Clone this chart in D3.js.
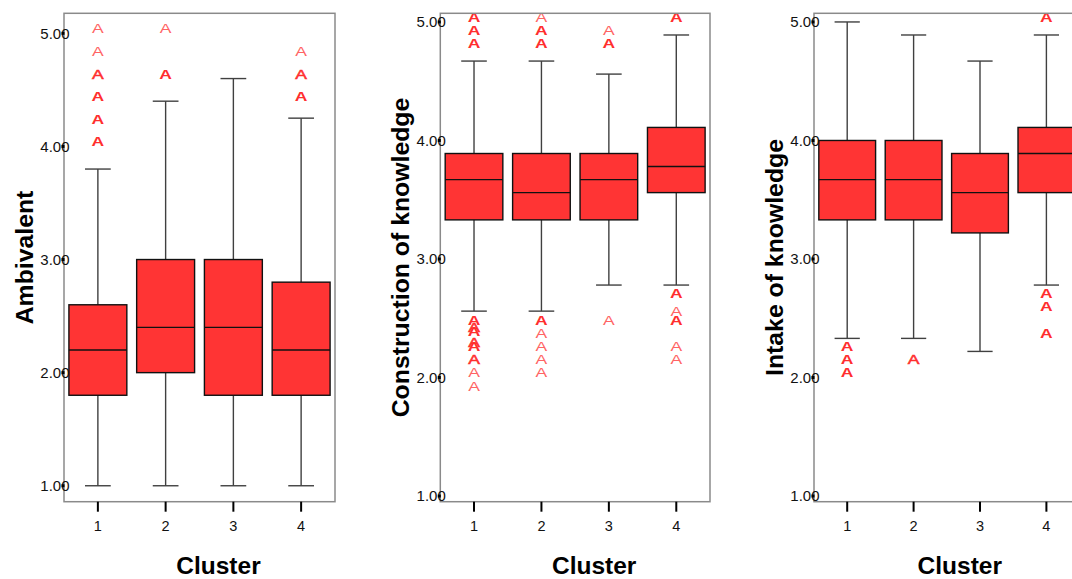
<!DOCTYPE html>
<html>
<head>
<meta charset="utf-8">
<script src="https://cdn.jsdelivr.net/npm/d3@7"></script>
<style>
  html, body { margin: 0; padding: 0; background: #ffffff; }
  svg { display: block; }
  text { font-family: "Liberation Sans", Arial, sans-serif; }
</style>
</head>
<body>
<svg id="chart" width="1072" height="579"></svg>
<script>
// ---------- data ----------
const clusters = ["1", "2", "3", "4"];
const yTickValues = [1, 2, 3, 4, 5];
const xTitle = "Cluster";
const panelTitles = ["Ambivalent", "Construction of knowledge", "Intake of knowledge"];

// [lower whisker, Q1, median, Q3, upper whisker] per cluster
const ambivalentStats = [
  [1.00, 1.80, 2.20, 2.60, 3.80],
  [1.00, 2.00, 2.40, 3.00, 4.40],
  [1.00, 1.80, 2.40, 3.00, 4.60],
  [1.00, 1.80, 2.20, 2.80, 4.25]
];
const constructionStats = [
  [2.56, 3.33, 3.67, 3.89, 4.67],
  [2.56, 3.33, 3.56, 3.89, 4.67],
  [2.78, 3.33, 3.67, 3.89, 4.56],
  [2.78, 3.56, 3.78, 4.11, 4.89]
];
const intakeStats = [
  [2.33, 3.33, 3.67, 4.00, 5.00],
  [2.33, 3.33, 3.67, 4.00, 4.89],
  [2.22, 3.22, 3.56, 3.89, 4.67],
  [2.78, 3.56, 3.89, 4.11, 4.89]
];

// outliers: [cluster, value, number of overlapping cases]
const ambivalentOutliers = [
  ["1", 5.00, 1], ["1", 4.80, 1], ["1", 4.60, 2], ["1", 4.40, 3], ["1", 4.20, 3], ["1", 4.00, 3],
  ["2", 5.00, 1], ["2", 4.60, 3],
  ["4", 4.80, 1], ["4", 4.60, 2], ["4", 4.40, 3]
];
const constructionOutliers = [
  ["1", 5.00, 3], ["1", 4.89, 3], ["1", 4.78, 3],
  ["2", 5.00, 1], ["2", 4.89, 3], ["2", 4.78, 3],
  ["3", 4.89, 1], ["3", 4.78, 3],
  ["4", 5.00, 3],
  ["1", 2.44, 3], ["1", 2.38, 2], ["1", 2.35, 3], ["1", 2.26, 2], ["1", 2.22, 3], ["1", 2.11, 2], ["1", 2.00, 1], ["1", 1.89, 1],
  ["2", 2.44, 3], ["2", 2.33, 1], ["2", 2.22, 1], ["2", 2.11, 1], ["2", 2.00, 1],
  ["3", 2.44, 1],
  ["4", 2.67, 3], ["4", 2.52, 1], ["4", 2.44, 3], ["4", 2.22, 1], ["4", 2.11, 1]
];
const intakeOutliers = [
  ["4", 5.00, 3],
  ["1", 2.22, 3], ["1", 2.11, 3], ["1", 2.00, 3],
  ["2", 2.11, 2],
  ["4", 2.67, 3], ["4", 2.56, 3], ["4", 2.33, 3]
];

// ---------- layout ----------
const frameTop = 13.3, frameBottom = 501.7;
const panels = [
  { title: panelTitles[0], stats: ambivalentStats, outliers: ambivalentOutliers,
    x0: 64, x1: 335, domain: [0.859, 5.177], xTitleShift: 19 },
  { title: panelTitles[1], stats: constructionStats, outliers: constructionOutliers,
    x0: 440.3, x1: 710, domain: [0.952, 5.073], xTitleShift: 19 },
  { title: panelTitles[2], stats: intakeStats, outliers: intakeOutliers,
    x0: 814, x1: 1079.6, domain: [0.952, 5.073], xTitleShift: 13 }
];

const boxColor = "#ff3434";
const svg = d3.select("#chart");

panels.forEach(p => {
  const g = svg.append("g");
  const x = d3.scaleBand().domain(clusters).range([p.x0, p.x1]).padding(0);
  const y = d3.scaleLinear().domain(p.domain).range([frameBottom, frameTop]);
  const bw = x.bandwidth();
  const boxW = bw * 0.855;
  const capW = bw * 0.38;

  // whiskers
  p.stats.forEach((s, i) => {
    const cx = x(clusters[i]) + bw / 2;
    const wg = g.append("g").attr("stroke", "#404040").attr("stroke-width", 1.4);
    wg.append("line").attr("x1", cx).attr("x2", cx).attr("y1", y(s[0])).attr("y2", y(s[1]));
    wg.append("line").attr("x1", cx).attr("x2", cx).attr("y1", y(s[3])).attr("y2", y(s[4]));
    wg.append("line").attr("x1", cx - capW / 2).attr("x2", cx + capW / 2).attr("y1", y(s[0])).attr("y2", y(s[0]));
    wg.append("line").attr("x1", cx - capW / 2).attr("x2", cx + capW / 2).attr("y1", y(s[4])).attr("y2", y(s[4]));
  });

  // boxes
  p.stats.forEach((s, i) => {
    const cx = x(clusters[i]) + bw / 2;
    g.append("rect")
      .attr("x", cx - boxW / 2).attr("width", boxW)
      .attr("y", y(s[3])).attr("height", y(s[1]) - y(s[3]))
      .attr("fill", boxColor).attr("stroke", "#111").attr("stroke-width", 1.4);
    g.append("line")
      .attr("x1", cx - boxW / 2).attr("x2", cx + boxW / 2)
      .attr("y1", y(s[2])).attr("y2", y(s[2]))
      .attr("stroke", "#111").attr("stroke-width", 1.4);
  });

  // outliers drawn as "A" markers
  p.outliers.forEach(o => {
    const cx = x(o[0]) + bw / 2;
    const n = o[2];
    g.append("text")
      .attr("transform", `translate(${cx},${y(o[1])}) scale(1.35,1)`)
      .attr("text-anchor", "middle")
      .attr("font-size", 13)
      .attr("font-weight", n >= 3 ? "bold" : "normal")
      .attr("fill", n >= 2 ? "#ff2e2e" : "#ff6464")
      .attr("stroke", n === 2 ? "#ff2e2e" : "none")
      .attr("stroke-width", n === 2 ? 0.5 : 0)
      .text("A");
  });

  // frame
  g.append("rect")
    .attr("x", p.x0).attr("y", frameTop)
    .attr("width", p.x1 - p.x0).attr("height", frameBottom - frameTop)
    .attr("fill", "none").attr("stroke", "#8a8a8a").attr("stroke-width", 1.5);

  // y axis ticks and labels
  yTickValues.forEach(v => {
    g.append("text")
      .attr("x", p.x0 + 5.5).attr("y", y(v))
      .attr("dy", "0.36em")
      .attr("text-anchor", "end")
      .attr("font-size", 15)
      .attr("fill", "#111")
      .text(d3.format(".2f")(v));
    g.append("rect")
      .attr("x", p.x0 - 2.5).attr("y", y(v) - 1.5)
      .attr("width", 3).attr("height", 3).attr("fill", "#000");
  });

  // x axis ticks and labels
  clusters.forEach(c => {
    const cx = x(c) + bw / 2;
    g.append("line")
      .attr("x1", cx).attr("x2", cx)
      .attr("y1", frameBottom).attr("y2", frameBottom + 10)
      .attr("stroke", "#000").attr("stroke-width", 2);
    g.append("text")
      .attr("x", cx).attr("y", 531)
      .attr("text-anchor", "middle")
      .attr("font-size", 14.5)
      .attr("fill", "#111")
      .text(c);
  });

  // x title
  g.append("text")
    .attr("x", (p.x0 + p.x1) / 2 + p.xTitleShift).attr("y", 574)
    .attr("text-anchor", "middle")
    .attr("font-size", 24.5).attr("font-weight", "bold")
    .attr("fill", "#000")
    .text(xTitle);

  // y title
  const ty = (frameTop + frameBottom) / 2;
  const tx = p.x0 - 40 + 8.8;
  g.append("text")
    .attr("transform", `translate(${tx},${ty}) rotate(-90)`)
    .attr("text-anchor", "middle")
    .attr("font-size", 24.8).attr("font-weight", "bold")
    .attr("fill", "#000")
    .text(p.title);
});
</script>
</body>
</html>
